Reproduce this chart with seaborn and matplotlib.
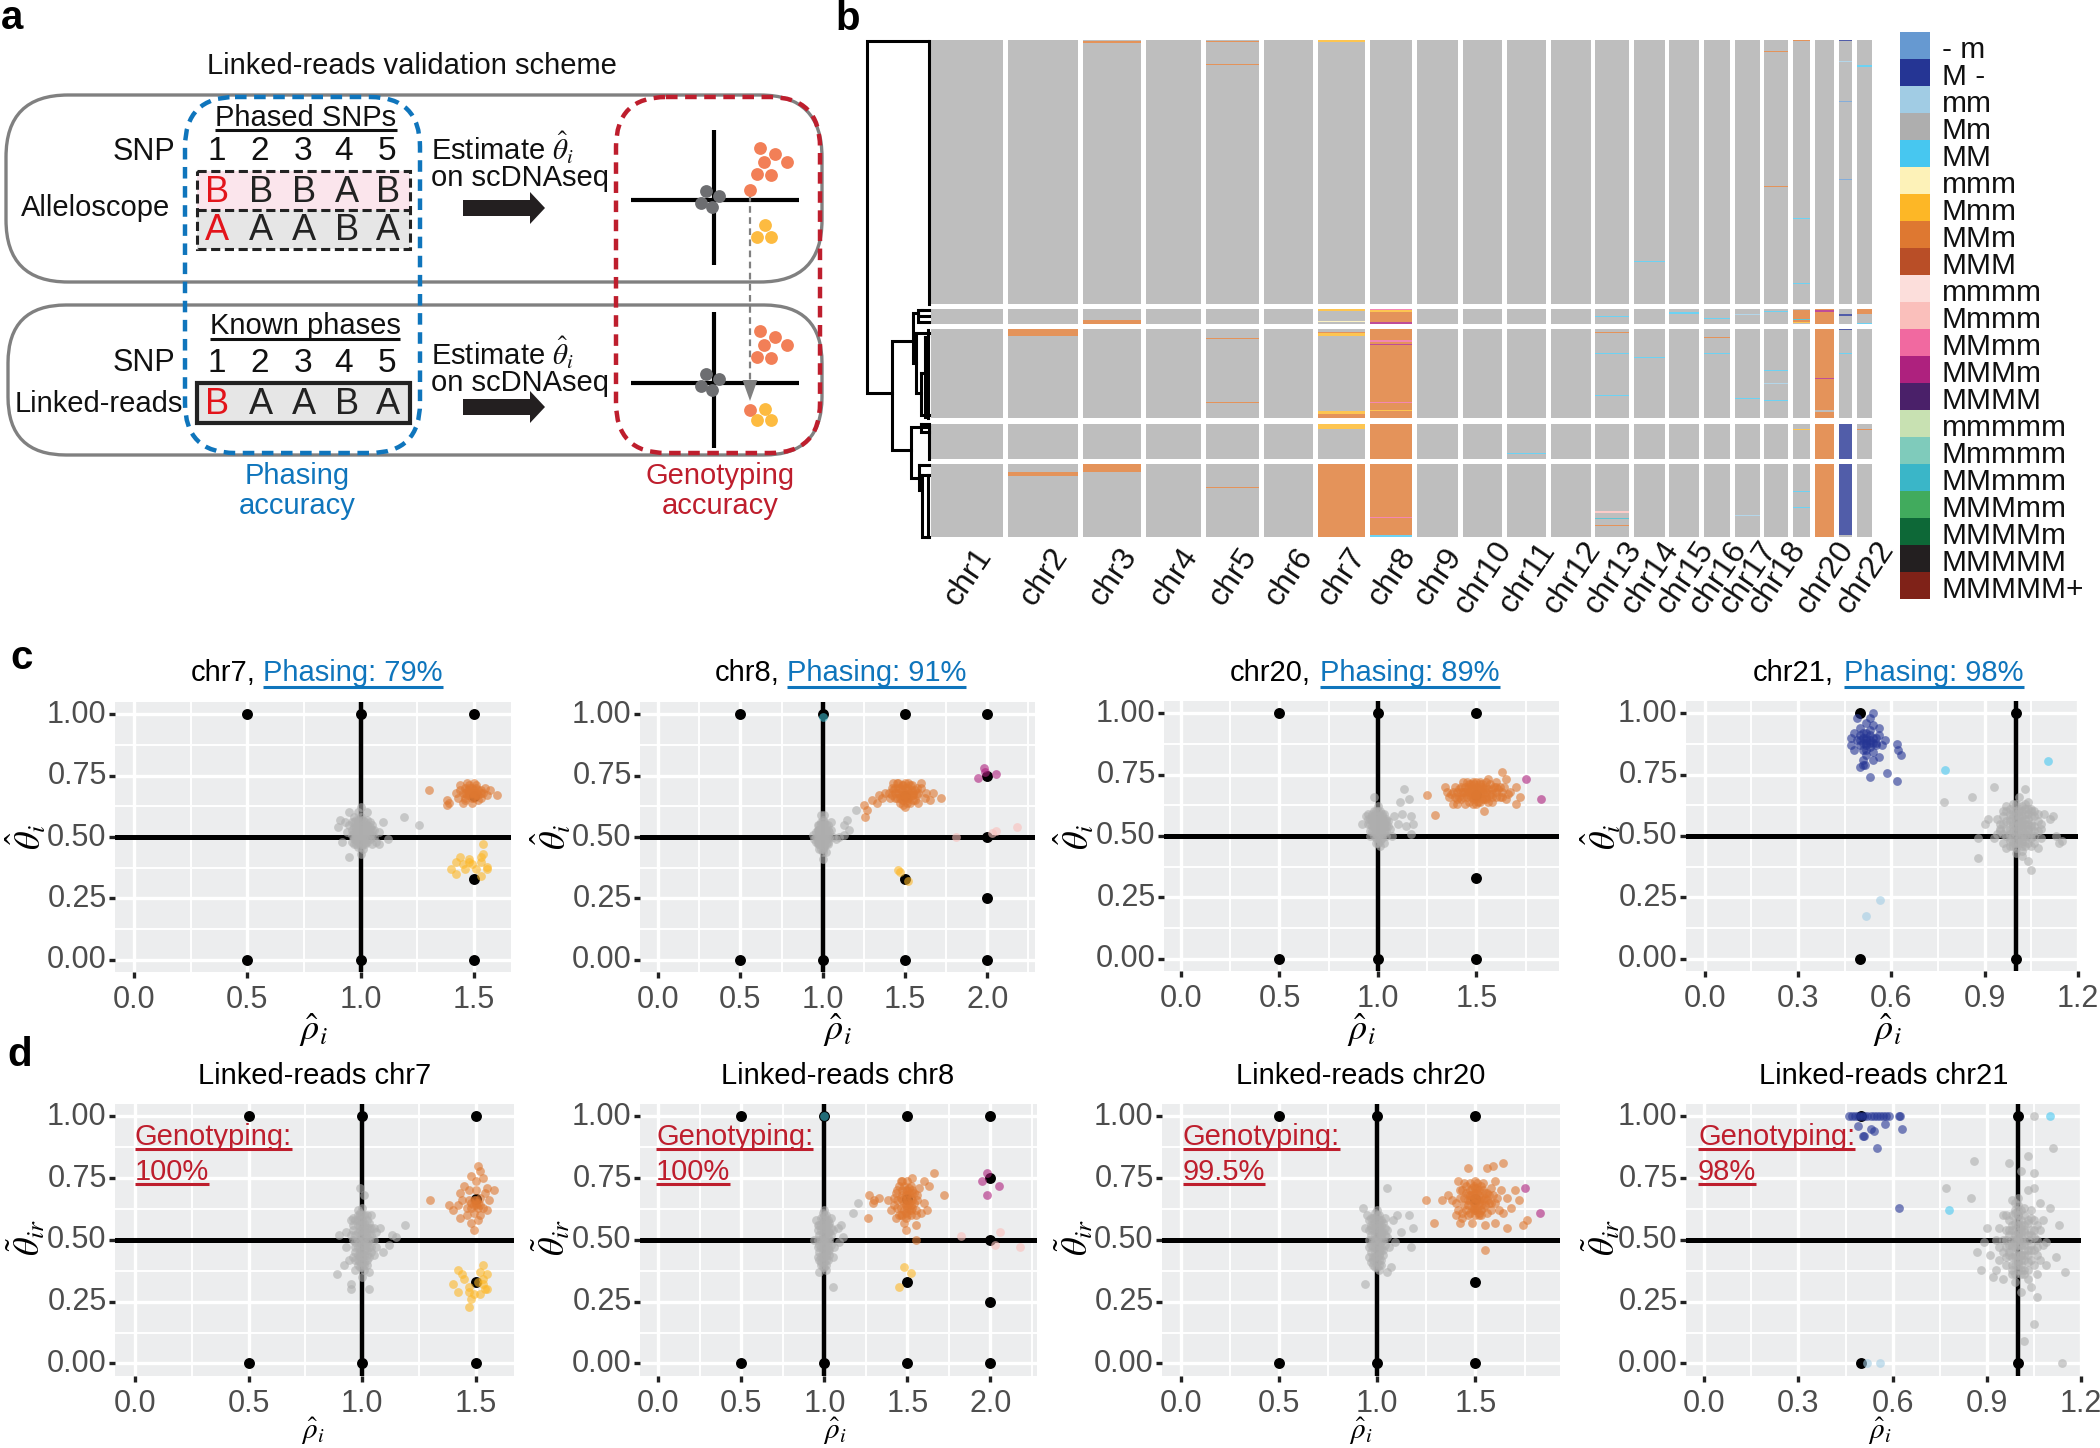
import numpy as np
import pandas as pd
import matplotlib
matplotlib.use("Agg")
import matplotlib.pyplot as plt
from matplotlib.colors import ListedColormap
from matplotlib.patches import FancyBboxPatch, Rectangle, FancyArrow
from matplotlib.ticker import AutoMinorLocator
from matplotlib.transforms import ScaledTranslation
import seaborn as sns

sns.set_theme(style="white")
plt.rcParams["font.family"] = ["Liberation Sans", "DejaVu Sans"]
plt.rcParams["mathtext.fontset"] = "stix"

# ---------- panel b data ----------
states = ["- m", "M -", "mm", "Mm", "MM", "mmm", "Mmm", "MMm", "MMM", "mmmm", "Mmmm", "MMmm", "MMMm", "MMMM",
          "mmmmm", "Mmmmm", "MMmmm", "MMMmm", "MMMMm", "MMMMM", "MMMMM+"]
state_colors = ["#6699D1", "#253594", "#A1CCE4", "#AEAEAE", "#47C7F0", "#FDF2B8", "#FDB726", "#DE7831", "#B94E27",
                "#FCDEDB", "#FABFBB", "#F169A0", "#AE217E", "#4A2069", "#C8E1B2", "#7FCBBB", "#3AB6C8", "#41AB5D",
                "#0D6837", "#231F20", "#7F2218"]
chroms = [f"chr{i}" for i in range(1, 23)]
chrom_labels = [c if c not in ("chr19", "chr21") else "" for c in chroms]
group_rows = [265, 15, 89, 35, 73]
# (chromosome, group, first row, number of rows, state)
segments = [
    (3, 0, 2, 2, "MMm"), (5, 0, 2, 1, "MMm"), (5, 0, 25, 1, "MMm"), (7, 0, 0, 1, "MMm"), (7, 0, 1, 2, "Mmm"),
    (14, 0, 222, 1, "MM"), (18, 0, 12, 1, "MMm"), (18, 0, 147, 1, "MMm"), (19, 0, 0, 2, "MMm"), (19, 0, 179, 1, "MM"),
    (19, 0, 244, 1, "MM"), (21, 0, 0, 2, "M -"), (21, 0, 22, 1, "mm"), (21, 0, 62, 1, "- m"), (21, 0, 140, 1, "- m"),
    (22, 0, 26, 2, "MM"),
    (3, 1, 11, 4, "MMm"), (7, 1, 0, 2, "Mmm"), (7, 1, 12, 1, "mmm"), (8, 1, 0, 15, "MMm"), (8, 1, 0, 1, "MMmm"),
    (8, 1, 1, 2, "Mmm"), (8, 1, 13, 2, "MMMm"), (13, 1, 7, 1, "MM"), (15, 1, 3, 2, "MM"), (16, 1, 9, 1, "MM"),
    (17, 1, 5, 1, "mm"), (18, 1, 2, 1, "MM"), (19, 1, 1, 13, "MMm"), (19, 1, 10, 1, "MMmmm"), (19, 1, 13, 1, "Mmm"),
    (20, 1, 0, 15, "MMm"), (20, 1, 1, 2, "MMMm"), (21, 1, 5, 2, "M -"), (22, 1, 0, 5, "MMm"), (22, 1, 14, 1, "MM"),
    (2, 2, 0, 7, "MMm"), (5, 2, 9, 1, "MMm"), (5, 2, 73, 1, "MMm"), (7, 2, 3, 1, "MMm"), (7, 2, 4, 3, "Mmm"),
    (7, 2, 82, 3, "Mmm"), (7, 2, 85, 4, "MMm"), (8, 2, 0, 89, "MMm"), (8, 2, 11, 2, "MMmm"), (8, 2, 15, 1, "MMMm"),
    (8, 2, 73, 1, "MMmm"), (8, 2, 81, 1, "Mmm"), (13, 2, 3, 1, "MMm"), (13, 2, 24, 1, "MM"), (13, 2, 66, 1, "MM"),
    (14, 2, 28, 1, "MM"), (16, 2, 8, 1, "MMm"), (16, 2, 24, 1, "MM"), (17, 2, 69, 1, "MM"), (18, 2, 41, 1, "MM"),
    (18, 2, 54, 1, "mm"), (18, 2, 71, 1, "MM"), (20, 2, 0, 89, "MMm"), (20, 2, 49, 1, "MMMm"), (20, 2, 81, 2, "Mm"),
    (21, 2, 0, 1, "M -"), (21, 2, 24, 1, "MM"),
    (7, 3, 0, 5, "Mmm"), (8, 3, 0, 35, "MMm"), (11, 3, 29, 1, "MM"), (19, 3, 5, 1, "Mmm"), (20, 3, 0, 35, "MMm"),
    (21, 3, 0, 35, "M -"), (22, 3, 5, 1, "MMm"),
    (2, 4, 8, 4, "MMm"), (3, 4, 0, 8, "MMm"), (5, 4, 23, 1, "MMm"), (7, 4, 0, 73, "MMm"), (8, 4, 0, 73, "MMm"),
    (8, 4, 53, 1, "MMmm"), (8, 4, 71, 2, "MM"), (13, 4, 47, 2, "Mmmm"), (13, 4, 54, 1, "MMmmm"), (13, 4, 61, 1, "MMm"),
    (17, 4, 51, 1, "mm"), (19, 4, 27, 1, "MM"), (19, 4, 43, 1, "MM"), (20, 4, 0, 73, "MMm"), (21, 4, 0, 73, "M -"),
    (21, 4, 71, 2, "Mm"),
]

# ---------- panels c / d data ----------
rho_ticks = {"chr7": [0, .5, 1, 1.5], "chr8": [0, .5, 1, 1.5, 2], "chr20": [0, .5, 1, 1.5], "chr21": [0, .3, .6, .9, 1.2]}
theta_ticks = [0, .25, .5, .75, 1]
exp_chr7 = [(.5, 1), (1, 1), (1.5, 1), (.5, 0), (1, 0), (1.5, 0), (1.5, .33), (1.5, .667)]
exp_chr8 = [(.5, 1), (1, 1), (1.5, 1), (2, 1), (.5, 0), (1, 0), (1.5, 0), (2, 0), (1.5, .33), (2, .75), (2, .5), (2, .25), (1.5, .667)]
exp_chr20 = [(.5, 1), (1, 1), (1.5, 1), (.5, 0), (1, 0), (1.5, 0), (1.5, .33), (1.5, .667)]
exp_chr21 = [(.5, 1), (1, 1), (.5, 0), (1, 0)]

c7_Mm = [(1.00,.52),(.99,.53),(1.01,.51),(1.00,.50),(.98,.51),(1.02,.53),(1.01,.54),(.99,.50),(1.03,.52),(.97,.52),(1.00,.55),(.98,.54),(1.02,.50),(1.01,.49),(.99,.48),(1.04,.51),(.96,.53),(1.00,.47),(1.03,.55),(.97,.50),(1.05,.53),(.95,.55),(1.02,.47),(.98,.47),(1.06,.50),(1.00,.58),(.96,.48),(1.04,.56),(.94,.52),(1.08,.52),(.99,.57),(1.01,.45),(1.07,.48),(.93,.56),(1.10,.56),(1.05,.47),(.91,.57),(.90,.54),(1.00,.62),(.99,.60),(.97,.58),(1.19,.58),(1.26,.55),(.92,.48),(1.00,.43),(1.03,.60),(.95,.42),(1.12,.49),(1.08,.47),(.95,.60),(1.00,.53),(1.01,.52),(.99,.51),(1.00,.49),(1.02,.51),(.98,.53),(1.01,.55),(.99,.55),(1.03,.49),(.97,.49),(1.00,.51),(1.01,.53),(.99,.52),(1.02,.52),(.98,.52),(1.00,.54),(1.01,.50),(.99,.54),(1.02,.54),(.98,.50),(1.03,.53),(.97,.54),(1.00,.48),(1.04,.53),
         (.96,.51),(.96,.56),(.97,.47),(.97,.56),(.98,.49),(.98,.57),(.99,.46),(.99,.56),(1.00,.46),(1.00,.57),(1.01,.47),(1.01,.57),(1.02,.48),(1.02,.56),(1.03,.48),(1.03,.57),(1.04,.49),(1.04,.54),(1.05,.51),(1.05,.55),(1.06,.53)]
c7_MMm = [(1.48,.68),(1.50,.69),(1.46,.70),(1.52,.67),(1.49,.66),(1.47,.67),(1.51,.70),(1.53,.69),(1.45,.68),(1.44,.71),(1.48,.71),(1.50,.72),(1.54,.68),(1.56,.67),(1.43,.66),(1.46,.65),(1.52,.65),(1.49,.64),(1.42,.68),(1.57,.69),(1.60,.67),(1.38,.65),(1.38,.63),(1.39,.64),(1.30,.69),(1.47,.72),(1.51,.71),(1.44,.69),(1.53,.66),(1.50,.68),(1.48,.69),(1.46,.66),(1.51,.68),(1.49,.70),(1.45,.64),(1.55,.70),(1.48,.67),(1.50,.67),(1.47,.69),(1.52,.69),(1.49,.68),(1.51,.67),(1.46,.68),(1.53,.68),(1.50,.66),(1.48,.70)]
c7_Mmm = [(1.54,.47),(1.54,.43),(1.44,.42),(1.48,.41),(1.42,.40),(1.53,.40),(1.49,.39),(1.40,.37),(1.46,.37),(1.42,.35),(1.51,.37),(1.56,.38),(1.53,.34),(1.56,.37),(1.48,.40),(1.53,.42),(1.45,.39)]
c8_Mm = [(1.00,.51),(.99,.52),(1.01,.50),(1.00,.49),(.98,.51),(1.02,.52),(1.01,.53),(.99,.49),(1.03,.51),(.97,.50),(1.00,.54),(.98,.53),(1.02,.49),(1.01,.47),(.99,.47),(1.04,.50),(.96,.52),(1.00,.46),(.97,.48),(1.05,.53),(.95,.49),(1.03,.47),(.98,.45),(1.06,.50),(1.00,.57),(1.01,.56),(.99,.56),(.97,.55),(1.03,.55),(.94,.51),(1.08,.49),(1.00,.44),(1.02,.44),(1.00,.41),(.99,.59),(1.01,.59),(1.20,.61),(1.15,.57),(1.13,.55),(1.16,.53),(1.13,.51),(1.05,.56),(1.10,.50),(1.00,.51),(1.01,.51),(.99,.51),(1.00,.52),(1.00,.50),(.98,.49),(1.02,.50),(1.00,.53),(1.01,.49),(.99,.53),(.98,.52),(1.02,.53),(1.03,.49),(.97,.53),(1.00,.48),(1.01,.52),(.99,.50),
         (.96,.50),(.97,.53),(.97,.47),(.98,.55),(.98,.47),(.99,.45),(.99,.55),(1.00,.45),(1.00,.55),(1.01,.46),(1.01,.55),(1.02,.47),(1.02,.55),(1.03,.48),(1.03,.53),(1.04,.52),(.96,.48),(1.00,.56)]
c8_MMm = [(1.50,.68),(1.48,.69),(1.52,.67),(1.46,.70),(1.54,.69),(1.50,.66),(1.47,.67),(1.53,.71),(1.44,.68),(1.57,.67),(1.49,.71),(1.42,.70),(1.60,.70),(1.51,.64),(1.48,.65),(1.55,.65),(1.41,.66),(1.63,.68),(1.45,.72),(1.38,.68),(1.36,.66),(1.34,.67),(1.33,.64),(1.60,.72),(1.62,.66),(1.67,.68),(1.65,.65),(1.50,.62),(1.58,.64),(1.52,.72),(1.72,.657),(1.25,.63),(1.27,.61),(1.26,.583),(1.30,.65),(1.50,.70),(1.49,.67),(1.53,.68),(1.47,.66),(1.51,.69),(1.50,.67),(1.48,.67),(1.52,.66),(1.46,.68),(1.54,.67),(1.49,.65),(1.51,.66),(1.44,.66),(1.56,.69),(1.43,.69),(1.47,.70),(1.55,.67),
          (1.40,.68),(1.42,.67),(1.43,.72),(1.44,.70),(1.45,.66),(1.46,.72),(1.47,.64),(1.48,.71),(1.49,.63),(1.50,.72),(1.51,.65),(1.52,.70),(1.53,.64),(1.54,.71),(1.55,.68),(1.56,.65),(1.57,.70),(1.58,.68)]
c8_Mmm = [(1.46,.366),(1.47,.356),(1.52,.322)]
c8_MMmm = [(1.81,.50),(2.03,.515),(2.055,.526),(2.18,.542)]
c8_MMMm = [(1.98,.779),(2.05,.758),(1.945,.741),(1.985,.765)]
c8_MMmmm = [(1.0,.99)]
c20_Mm = [(1.00,.55),(.99,.54),(1.01,.53),(.98,.56),(1.02,.55),(.97,.54),(1.03,.56),(.99,.57),(1.00,.52),(1.01,.58),(.96,.57),(.98,.52),(1.04,.54),(1.00,.50),(1.02,.51),(.95,.55),(1.05,.56),(.97,.59),(1.03,.59),(.99,.49),(1.01,.48),(.94,.58),(1.06,.53),(1.00,.47),(.96,.52),(1.08,.58),(1.04,.50),(1.07,.50),(1.03,.47),(.99,.60),(.92,.55),(1.10,.55),(1.13,.69),(1.11,.64),(1.16,.65),(1.17,.58),(1.18,.55),(.98,.66),(1.14,.54),(1.17,.51),(1.12,.59),(1.00,.62),(1.01,.55),(.99,.55),(1.00,.56),(1.00,.54),(.98,.54),(1.02,.57),(1.00,.53),(1.01,.56),(.99,.52),(1.02,.53),(.98,.58),(1.03,.54),(.97,.56),(1.00,.58),(1.01,.51),(.99,.59),(1.02,.59),(.96,.55),(1.04,.57),(.95,.57),(1.00,.55),(.98,.50),(1.03,.52),
          (.96,.50),(.97,.58),(.97,.52),(.98,.57),(.98,.60),(.98,.55),(.99,.53),(.99,.51),(1.00,.49),(1.00,.57),(1.00,.60),(1.01,.52),(1.01,.54),(1.01,.60),(1.02,.49),(1.02,.58),(1.03,.51),(1.03,.55),(1.04,.56),(1.04,.52),(1.05,.54),(.95,.59),(.99,.47),(1.01,.46)]
c20_MMm = [(1.50,.68),(1.48,.69),(1.52,.67),(1.46,.70),(1.54,.69),(1.50,.66),(1.47,.67),(1.53,.71),(1.44,.68),(1.57,.67),(1.49,.71),(1.42,.70),(1.60,.70),(1.51,.64),(1.48,.65),(1.55,.65),(1.41,.66),(1.63,.68),(1.45,.72),(1.38,.68),(1.36,.66),(1.34,.70),(1.40,.63),(1.60,.72),(1.62,.66),(1.67,.68),(1.65,.65),(1.54,.60),(1.58,.64),(1.52,.72),(1.25,.665),(1.29,.585),(1.63,.76),(1.65,.73),(1.70,.70),(1.72,.66),(1.70,.63),(1.38,.63),(1.56,.73),(1.50,.70),(1.49,.67),(1.53,.68),(1.47,.66),(1.51,.69),(1.43,.66),(1.55,.68),(1.58,.69),(1.45,.69),(1.35,.68),(1.43,.72),(1.50,.67),(1.48,.67),(1.52,.69),(1.46,.68),(1.54,.67),(1.49,.69),(1.51,.66),(1.44,.70),(1.56,.69),(1.42,.68),(1.58,.67),(1.40,.68),(1.60,.68),(1.47,.71),(1.53,.65),(1.45,.66),(1.55,.70),(1.39,.66),(1.62,.70),(1.50,.65),
           (1.37,.67),(1.39,.70),(1.40,.65),(1.41,.69),(1.42,.65),(1.43,.68),(1.44,.63),(1.45,.67),(1.46,.71),(1.46,.64),(1.47,.69),(1.48,.63),(1.48,.72),(1.49,.66),(1.50,.63),(1.50,.72),(1.51,.67),(1.52,.64),(1.52,.71),(1.53,.70),(1.54,.65),(1.55,.72),(1.55,.66),(1.56,.64),(1.57,.71),(1.58,.66),(1.59,.70),(1.60,.66),(1.61,.69),(1.63,.66),(1.64,.70),(1.66,.67)]
c20_MMMm = [(1.75,.73),(1.83,.65)]
c21_M_ = [(.52,.89),(.51,.90),(.53,.88),(.50,.91),(.54,.90),(.52,.92),(.50,.87),(.53,.86),(.55,.88),(.49,.89),(.51,.85),(.56,.91),(.48,.92),(.54,.84),(.52,.83),(.57,.87),(.47,.90),(.47,.87),(.48,.85),(.50,.94),(.54,.95),(.53,.98),(.54,1.0),(.52,.96),(.49,.98),(.58,.89),(.56,.82),(.51,.81),(.54,.81),(.51,.79),(.56,.94),(.617,.874),(.632,.83),(.62,.85),(.531,.741),(.585,.755),(.617,.724),(.499,.779),(.516,.789),(.55,.87),(.52,.87),(.53,.91),(.51,.88),(.52,.90),(.53,.89),(.54,.88),(.52,.85),(.53,.93),(.50,.89),(.55,.90),(.52,.88),(.51,.92)]
c21_MM = [(.774,.768),(1.104,.806)]
c21_mm = [(.563,.24),(.52,.175)]
c21_Mm = [(1.02,.55),(1.00,.54),(1.04,.53),(.98,.56),(1.03,.57),(.99,.52),(1.05,.58),(1.01,.50),(.97,.53),(1.06,.52),(1.02,.48),(.96,.58),(1.00,.60),(1.03,.61),(.98,.49),(1.07,.56),(.95,.55),(1.05,.49),(1.02,.46),(.94,.51),(1.09,.59),(.99,.63),(1.04,.64),(1.01,.66),(1.03,.69),(1.08,.49),(.93,.49),(1.11,.57),(.91,.57),(.90,.55),(1.13,.50),(1.14,.47),(.88,.49),(.98,.46),(1.02,.44),(1.00,.45),(.77,.64),(.86,.66),(.93,.70),(.88,.41),(1.04,.40),(1.05,.36),(1.12,.58),(1.15,.48),(.96,.47),(1.01,.55),(1.02,.53),(1.03,.55),(1.00,.57),(1.01,.52),(.99,.55),(1.03,.51),(1.02,.58),(1.04,.55),(1.00,.51),(.97,.45),(1.07,.45),(1.02,.56),(1.01,.58),(1.00,.56),(.99,.58),(.98,.53),(1.03,.53),(1.05,.54),(1.04,.59),(1.02,.60),(1.06,.60),(.97,.60),(1.00,.48),(1.01,.47),(1.03,.48),(.99,.47),(.96,.51),(.95,.53),(1.06,.47),(1.02,.51),(1.04,.50),(.98,.59),(1.01,.61),(.96,.55),(1.08,.53),(1.05,.61),(.94,.57),(1.00,.43),(1.02,.42),
          (.95,.52),(.96,.60),(.97,.50),(.97,.56),(.97,.62),(.98,.48),(.98,.51),(.98,.57),(.98,.61),(.99,.46),(.99,.50),(.99,.54),(.99,.60),(1.00,.47),(1.00,.52),(1.00,.59),(1.00,.63),(1.01,.49),(1.01,.54),(1.01,.57),(1.01,.60),(1.02,.47),(1.02,.50),(1.02,.54),(1.02,.62),(1.03,.46),(1.03,.50),(1.03,.59),(1.03,.63),(1.04,.47),(1.04,.52),(1.04,.57),(1.04,.61),(1.05,.46),(1.05,.51),(1.05,.55),(1.05,.60),(1.06,.50),(1.06,.54),(1.06,.58),(1.07,.52),(1.07,.59),(1.08,.55)]

d7_Mm = [(1.00,.50),(.99,.52),(1.01,.48),(1.00,.46),(.98,.50),(1.02,.53),(1.01,.55),(.99,.47),(1.03,.50),(.97,.52),(1.00,.56),(.98,.56),(1.02,.46),(1.01,.44),(.99,.43),(1.04,.52),(.96,.54),(1.00,.41),(1.03,.57),(.97,.45),(1.06,.53),(.95,.58),(1.02,.42),(.98,.40),(1.06,.47),(1.00,.60),(.96,.43),(1.04,.60),(.93,.47),(1.08,.55),(.99,.61),(1.01,.38),(1.09,.45),(.93,.53),(1.12,.48),(1.05,.44),(.90,.52),(.94,.42),(.98,.62),(1.01,.68),(.99,.71),(.96,.59),(1.19,.56),(.89,.36),(.95,.32),(.95,.30),(1.03,.30),(1.15,.51),(1.13,.52),(.92,.40),(1.00,.51),(1.01,.50),(.99,.49),(1.00,.53),(1.02,.49),(.98,.47),(1.01,.53),(1.00,.48),(.99,.54),(1.04,.45),(1.05,.55),(.97,.38),(1.00,.35),(1.03,.37),(1.00,.44),(.98,.44),(1.01,.41),(.99,.58),(1.00,.58),(1.02,.58),(.98,.53),(1.02,.51),(.97,.49),(1.03,.47),(.99,.45),(1.01,.46),(1.00,.54),(.99,.41),(1.02,.55),(.98,.58),
         (.96,.56),(.97,.42),(.97,.58),(.98,.42),(.98,.60),(.99,.39),(.99,.44),(.99,.56),(.99,.60),(1.00,.39),(1.00,.43),(1.00,.57),(1.00,.63),(1.01,.40),(1.01,.57),(1.01,.60),(1.02,.40),(1.02,.44),(1.02,.48),(1.02,.60),(1.03,.43),(1.03,.52),(1.03,.55),(1.04,.47),(1.04,.55),(1.05,.50),(.97,.47),(.96,.50),(.95,.52)]
d7_MMm = [(1.50,.66),(1.48,.65),(1.52,.67),(1.47,.70),(1.53,.63),(1.50,.70),(1.46,.63),(1.54,.69),(1.49,.61),(1.52,.60),(1.44,.66),(1.56,.66),(1.45,.72),(1.50,.74),(1.53,.75),(1.55,.71),(1.43,.69),(1.48,.76),(1.52,.78),(1.51,.80),(1.58,.70),(1.42,.64),(1.38,.64),(1.40,.62),(1.30,.66),(1.43,.59),(1.46,.60),(1.48,.57),(1.49,.54),(1.51,.58),(1.55,.62),(1.49,.64),(1.50,.65),(1.51,.65),(1.47,.66),(1.52,.64),(1.50,.64),(1.49,.66),(1.51,.63),(1.48,.63)]
d7_Mmm = [(1.42,.38),(1.44,.36),(1.45,.34),(1.53,.40),(1.52,.37),(1.55,.36),(1.53,.34),(1.51,.33),(1.55,.30),(1.40,.32),(1.47,.31),(1.53,.32),(1.52,.28),(1.42,.29),(1.49,.28),(1.47,.29),(1.48,.26),(1.54,.30),(1.47,.23)]
d8_Mm = [(1.00,.50),(.99,.52),(1.01,.48),(1.00,.46),(.98,.50),(1.02,.53),(1.01,.55),(.99,.47),(1.03,.50),(.97,.52),(1.00,.56),(.98,.56),(1.02,.46),(1.01,.44),(.99,.43),(1.04,.52),(.96,.54),(1.00,.41),(1.03,.57),(.97,.45),(1.05,.54),(.96,.47),(1.02,.42),(.98,.40),(1.06,.47),(1.00,.60),(.96,.43),(1.04,.59),(.94,.50),(1.08,.55),(.99,.61),(1.01,.38),(1.09,.49),(.95,.58),(1.20,.65),(1.17,.61),(1.10,.56),(1.11,.51),(1.05,.43),(.97,.37),(1.05,.31),(1.00,.51),(1.01,.50),(.99,.49),(1.00,.53),(1.02,.49),(.98,.47),(1.01,.53),(1.00,.44),(.99,.45),(1.01,.46),(.98,.43),(1.00,.58),(.99,.57),(1.01,.58),(.98,.54),(1.02,.56),(1.00,.48),(.99,.50),(1.01,.42),(.97,.48),(1.03,.46),
         (.96,.50),(.97,.42),(.97,.56),(.98,.41),(.98,.59),(.99,.39),(.99,.55),(.99,.59),(1.00,.39),(1.00,.43),(1.00,.55),(1.00,.62),(1.01,.40),(1.01,.44),(1.01,.56),(1.01,.60),(1.02,.47),(1.02,.51),(1.02,.58),(1.03,.44),(1.03,.53),(1.04,.48),(1.04,.55),(.96,.56)]
d8_MMm = [(1.50,.66),(1.48,.65),(1.52,.67),(1.47,.70),(1.53,.63),(1.50,.70),(1.46,.63),(1.54,.69),(1.49,.61),(1.52,.60),(1.44,.66),(1.56,.66),(1.45,.72),(1.50,.74),(1.53,.75),(1.57,.71),(1.43,.69),(1.47,.74),(1.52,.72),(1.60,.74),(1.58,.61),(1.42,.64),(1.38,.66),(1.40,.62),(1.33,.67),(1.43,.59),(1.46,.60),(1.48,.57),(1.49,.54),(1.55,.56),(1.55,.62),(1.60,.65),(1.62,.62),(1.63,.72),(1.66,.77),(1.72,.68),(1.30,.66),(1.27,.68),(1.29,.65),(1.26,.59),(1.55,.50),(1.49,.64),(1.50,.65),(1.51,.65),(1.47,.66),(1.52,.64),(1.49,.68),(1.51,.69),(1.48,.62),(1.53,.66),(1.50,.63),(1.49,.70),(1.51,.62),(1.47,.68),(1.53,.69),(1.50,.68),
          (1.42,.67),(1.44,.63),(1.44,.70),(1.45,.60),(1.46,.67),(1.46,.74),(1.47,.60),(1.48,.72),(1.49,.59),(1.50,.60),(1.51,.71),(1.52,.62),(1.53,.70),(1.54,.65),(1.55,.60),(1.56,.68)]
d8_Mmm = [(1.48,.39),(1.52,.365),(1.45,.31)]
d8_MMmm = [(1.82,.515),(2.06,.53),(2.03,.48),(2.18,.47)]
d8_MMMm = [(1.98,.77),(1.95,.74),(2.05,.72),(1.98,.68)]
d8_MMmmm = [(1.0,1.0)]
d20_Mm = [(1.00,.50),(.99,.52),(1.01,.48),(1.00,.46),(.98,.50),(1.02,.53),(1.01,.55),(.99,.47),(1.03,.50),(.97,.52),(1.00,.56),(.98,.56),(1.02,.46),(1.01,.44),(.99,.43),(1.04,.52),(.96,.54),(1.00,.41),(1.03,.57),(.97,.45),(1.05,.54),(.96,.47),(1.02,.42),(.98,.40),(1.06,.47),(1.00,.60),(.96,.43),(1.04,.59),(.94,.55),(1.08,.58),(.99,.61),(1.01,.38),(1.09,.49),(.95,.60),(1.05,.71),(.93,.63),(1.10,.60),(1.16,.60),(1.18,.55),(1.17,.47),(1.05,.37),(1.07,.39),(.94,.32),(1.00,.51),(1.01,.50),(.99,.49),(1.00,.53),(1.02,.49),(.98,.47),(1.01,.53),(1.12,.53),(1.00,.44),(.99,.45),(1.01,.46),(.98,.43),(1.00,.58),(.99,.57),(1.01,.58),(.98,.54),(1.02,.56),(1.00,.48),(.99,.50),(1.01,.42),(.97,.48),(1.03,.46),(1.02,.52),(.97,.55),
          (.96,.50),(.97,.41),(.97,.56),(.97,.59),(.98,.42),(.98,.59),(.99,.39),(.99,.55),(.99,.59),(1.00,.39),(1.00,.43),(1.00,.55),(1.00,.62),(1.01,.40),(1.01,.44),(1.01,.56),(1.01,.60),(1.02,.40),(1.02,.47),(1.02,.58),(1.03,.44),(1.03,.53),(1.04,.48),(1.04,.55),(1.05,.51),(.96,.58)]
d20_MMm = [(1.50,.67),(1.48,.66),(1.52,.68),(1.47,.70),(1.53,.64),(1.50,.71),(1.46,.64),(1.54,.70),(1.49,.62),(1.52,.61),(1.44,.67),(1.56,.66),(1.45,.72),(1.50,.74),(1.53,.72),(1.58,.71),(1.43,.70),(1.41,.62),(1.52,.60),(1.60,.74),(1.58,.62),(1.38,.66),(1.36,.68),(1.40,.60),(1.33,.66),(1.43,.59),(1.46,.60),(1.60,.57),(1.48,.57),(1.55,.56),(1.55,.64),(1.60,.65),(1.62,.62),(1.63,.70),(1.66,.67),(1.72,.66),(1.70,.70),(1.64,.61),(1.68,.63),(1.76,.58),(1.74,.56),(1.66,.55),(1.59,.80),(1.56,.79),(1.64,.81),(1.46,.79),(1.41,.74),(1.25,.66),(1.29,.57),(1.42,.57),(1.55,.46),(1.49,.65),(1.50,.65),(1.51,.66),(1.47,.66),(1.52,.65),(1.49,.68),(1.51,.69),(1.48,.63),(1.53,.67),(1.50,.69),(1.49,.63),(1.51,.71),(1.47,.68),(1.54,.66),(1.46,.66),(1.45,.69),(1.55,.67),(1.44,.64),(1.52,.70),(1.48,.71),(1.56,.69),(1.42,.67),(1.57,.65),(1.50,.62),(1.53,.62),
           (1.40,.65),(1.42,.70),(1.43,.61),(1.44,.73),(1.45,.62),(1.46,.68),(1.47,.61),(1.47,.73),(1.48,.68),(1.49,.72),(1.50,.60),(1.51,.63),(1.51,.73),(1.52,.66),(1.53,.60),(1.54,.63),(1.54,.73),(1.55,.69),(1.56,.61),(1.57,.68),(1.58,.65),(1.59,.68),(1.61,.67)]
d20_MMMm = [(1.75,.71),(1.83,.61)]
d21_M_ = [(.46,1),(.47,1),(.48,1),(.49,1),(.50,1),(.51,1),(.52,1),(.53,1),(.54,1),(.55,1),(.56,1),(.57,1),(.58,1),(.59,1),(.62,1),(.625,1),(.49,.96),(.51,.92),(.53,.95),(.54,.94),(.575,.97),(.63,.95),(.55,.87),(.62,.63),(.505,.92)]
d21_MM = [(1.1,1.0),(.78,.62)]
d21_mm = [(.52,0),(.56,0)]
d21_Mm = [(1.00,.50),(.99,.52),(1.01,.48),(1.00,.46),(.98,.50),(1.02,.53),(1.01,.55),(.99,.47),(1.03,.50),(.97,.52),(1.00,.56),(.98,.56),(1.02,.46),(1.01,.44),(.99,.43),(1.04,.52),(.96,.54),(1.00,.41),(1.03,.57),(.97,.45),(1.05,.54),(.96,.47),(1.02,.42),(.98,.40),(1.06,.47),(1.00,.60),(.96,.43),(1.04,.59),(.94,.55),(1.08,.58),(.99,.61),(1.01,.38),(1.09,.49),(.95,.60),(.93,.50),(.91,.44),(.93,.38),(.92,.35),(.95,.34),(.99,.33),(1.03,.34),(1.06,.36),(1.09,.40),(1.12,.43),(1.15,.37),(.88,.38),(.87,.45),(.90,.55),(.89,.49),(1.02,.63),(1.00,.67),(1.03,.70),(1.05,.71),(.98,.66),(1.00,.62),(1.07,.65),(1.10,.63),(1.13,.56),(1.01,.78),(1.03,.84),(1.05,.77),(.97,.81),(.86,.82),(.77,.71),(.85,.67),(1.11,.87),(1.05,1.0),(1.14,0.0),(1.05,.16),(1.02,.09),(1.01,.29),(1.06,.27),(1.04,.31),(1.00,.51),(1.01,.50),(.99,.49),(1.00,.53),(1.02,.49),(.98,.47),(1.01,.53),(1.00,.44),(.99,.40),(1.01,.42),(.98,.43),(1.00,.58),(.99,.57),(1.01,.58),(.98,.54),(1.02,.56),(1.00,.48),(.99,.50),(1.01,.36),(.97,.48),(1.03,.46),(1.02,.60),(.97,.58),(1.00,.40),(1.02,.38),(.98,.36),(1.04,.48),(.96,.50),(1.05,.51),(.95,.45),(1.06,.56),(.94,.47),(1.03,.41),(1.00,.64),(.99,.65),
          (.96,.40),(.97,.44),(.97,.54),(.98,.38),(.98,.48),(.98,.60),(.99,.36),(.99,.44),(.99,.54),(.99,.62),(1.00,.38),(1.00,.42),(1.00,.52),(1.00,.60),(1.01,.40),(1.01,.44),(1.01,.51),(1.01,.56),(1.01,.62),(1.02,.36),(1.02,.44),(1.02,.48),(1.02,.54),(1.03,.38),(1.03,.44),(1.03,.52),(1.03,.58),(1.04,.42),(1.04,.46),(1.04,.54),(1.04,.62),(1.05,.40),(1.05,.46),(1.05,.58),(1.06,.44),(1.06,.50),(1.07,.42),(1.07,.54),(.95,.50),(.94,.42),(.96,.60),(1.08,.48)]

c_series = {
    "chr7": [(c7_Mm, "Mm"), (c7_Mmm, "Mmm"), (c7_MMm, "MMm")],
    "chr8": [(c8_Mm, "Mm"), (c8_Mmm, "Mmm"), (c8_MMm, "MMm"), (c8_MMmm, "Mmmm"), (c8_MMMm, "MMMm"), (c8_MMmmm, "MMmmm")],
    "chr20": [(c20_Mm, "Mm"), (c20_MMm, "MMm"), (c20_MMMm, "MMMm")],
    "chr21": [(c21_Mm, "Mm"), (c21_M_, "M -"), (c21_MM, "MM"), (c21_mm, "mm")],
}
d_series = {
    "chr7": [(d7_Mm, "Mm"), (d7_Mmm, "Mmm"), (d7_MMm, "MMm")],
    "chr8": [(d8_Mm, "Mm"), (d8_Mmm, "Mmm"), (d8_MMm, "MMm"), (d8_MMmm, "Mmmm"), (d8_MMMm, "MMMm"), (d8_MMmmm, "MMmmm")],
    "chr20": [(d20_Mm, "Mm"), (d20_MMm, "MMm"), (d20_MMMm, "MMMm")],
    "chr21": [(d21_Mm, "Mm"), (d21_M_, "M -"), (d21_MM, "MM"), (d21_mm, "mm")],
}
expected = {"chr7": exp_chr7, "chr8": exp_chr8, "chr20": exp_chr20, "chr21": exp_chr21}
phasing = {"chr7": "79%", "chr8": "91%", "chr20": "89%", "chr21": "98%"}
genotyping = {"chr7": "100%", "chr8": "100%", "chr20": "99.5%", "chr21": "98%"}

# ---------- layout (pixels) ----------
W, H = 2100, 1448
fig = plt.figure(figsize=(W / 100, H / 100), dpi=100, facecolor="white")
def axpx(x0, y0, x1, y1, **kw):
    return fig.add_axes([x0 / W, 1 - y1 / H, (x1 - x0) / W, (y1 - y0) / H], **kw)

ov = fig.add_axes([0, 0, 1, 1], zorder=20)
ov.set_xlim(0, W); ov.set_ylim(H, 0); ov.axis("off"); ov.patch.set_alpha(0)
BLUE = "#0F75BC"; RED = "#BE1E2D"; INK = "#111111"
def T(x, y, s, size=22, color=INK, ha="center", va="center", **kw):
    return ov.text(x, y + 2, s, fontsize=size, color=color, ha=ha, va=va, **kw)
renderer = fig.canvas.get_renderer()
def under(t, y, color, lw=2.2):
    bb = t.get_window_extent(renderer)
    ov.plot([bb.x0, bb.x1], [y, y], color=color, lw=lw, solid_capstyle="butt")

for s, x, y in [("a", 12, 29), ("b", 848, 30), ("c", 22, 669), ("d", 20, 1066)]:
    ov.text(x, y, s, fontsize=29, color="black", fontweight="bold", ha="center", va="baseline")

# ---------- panel a (schematic) ----------
T(412, 64, "Linked-reads validation scheme", size=21)
def rbox(x0, y0, x1, y1, r, color, lw, ls="-", fc="none", z=2):
    ov.add_patch(FancyBboxPatch((x0 + r, y0 + r), x1 - x0 - 2 * r, y1 - y0 - 2 * r, boxstyle=f"round,pad={r},rounding_size={r}",
                                fc=fc, ec=color, lw=lw, ls=ls, zorder=z))
rbox(6, 95, 822, 282, 62, "#808080", 2.4)
rbox(8, 305, 822, 455, 58, "#808080", 2.4)
ov.add_patch(Rectangle((197, 171), 213, 39, fc="#FBE5EC", ec="none", zorder=1))
ov.add_patch(Rectangle((197, 210), 213, 39, fc="#E6E6E6", ec="none", zorder=1))
ov.add_patch(Rectangle((197, 171), 213, 78, fc="none", ec="#222222", lw=2.2, ls=(0, (3, 1.5)), zorder=2))
ov.plot([197, 410], [210, 210], color="#222222", lw=2.2, ls=(0, (3, 1.5)), zorder=2)
ov.add_patch(Rectangle((197, 383), 213, 40, fc="#E6E6E6", ec="#222222", lw=3, zorder=2))
rbox(185, 97, 420, 453, 50, BLUE, 3.2, (0, (2.6, 1.7)), z=4)
rbox(616, 97, 820, 453, 50, RED, 3.2, (0, (2.6, 1.7)), z=4)
t = T(306, 116, "Phased SNPs", size=21); under(t, 130, INK)
t = T(305, 324, "Known phases", size=21); under(t, 339, INK)
T(175, 150, "SNP", ha="right"); T(175, 361, "SNP", ha="right")
T(170, 206, "Alleloscope", ha="right", size=21); T(183, 402, "Linked-reads", ha="right", size=21)
for x, d in zip([217, 260, 303, 344, 387], "12345"):
    T(x, 150, d, size=24); T(x, 361, d, size=24)
letter_x = [217, 261, 304, 347, 388]
for y, word in [(190, "BBBAB"), (229, "AAABA"), (402, "BAABA")]:
    for i, (x, c) in enumerate(zip(letter_x, word)):
        T(x, y, c, size=26, color="#E3141B" if i == 0 else "#222222")
for y0, y1 in [(146, 176), (351, 381)]:
    T(431, y0, r"Estimate $\hat{\theta}_i$", ha="left", size=21)
    T(431, y1, "on scDNAseq", ha="left", size=21)
for y in (208, 407):
    ov.add_patch(FancyArrow(463, y, 82, 0, width=16, head_width=32, head_length=15, length_includes_head=True,
                            fc="#231F20", ec="none", zorder=3))
for vy0, vy1, hy in [(130, 265, 200), (312, 448, 383)]:
    ov.plot([713.5, 713.5], [vy0, vy1], color="black", lw=3, zorder=3, solid_capstyle="butt")
    ov.plot([631, 799], [hy, hy], color="black", lw=3, zorder=3, solid_capstyle="butt")
ov.plot([750, 750], [195, 392], color="#808080", lw=1.6, ls=(0, (3, 2)), zorder=3)
ov.add_patch(FancyArrow(750, 380, 0, 21, width=0.1, head_width=15, head_length=21, length_includes_head=True,
                        fc="#808080", ec="none", zorder=3))
gray_dots = [(706, 191), (719, 196), (701, 203), (712, 207)]
orange_dots = [(760, 148), (775, 154), (787, 162), (764, 162), (757, 174), (771, 175)]
for dy in (0, 183):
    ov.scatter([x for x, y in gray_dots], [y + dy for x, y in gray_dots], s=85, color="#6D6E71", lw=0, zorder=5)
    ov.scatter([x for x, y in orange_dots], [y + dy for x, y in orange_dots], s=85, color="#F27F57", lw=0, zorder=5)
ov.scatter([750], [190], s=85, color="#F27F57", lw=0, zorder=5)
ov.scatter([750], [410], s=85, color="#F27F57", lw=0, zorder=5)
ov.scatter([765, 757, 771], [225, 237, 237], s=85, color="#FDBB40", lw=0, zorder=5)
ov.scatter([765, 757, 771], [409, 420, 420], s=85, color="#FDBB40", lw=0, zorder=5)
T(297, 474, "Phasing", color=BLUE, size=21); T(297, 504, "accuracy", color=BLUE, size=21)
T(720, 474, "Genotyping", color=RED, size=21); T(720, 504, "accuracy", color=RED, size=21)

# ---------- panel b ----------
col_px = [(931,1003),(1008,1078),(1083,1141),(1146,1201),(1206,1259),(1264,1313),(1318,1365),(1370,1412),(1417,1458),
          (1463,1502),(1507,1546),(1551,1591),(1595,1629),(1634,1665),(1669,1699),(1704,1730),(1735,1760),(1764,1788),
          (1793,1810),(1815,1834),(1839,1852),(1857,1872)]
row_px = [(39.5,304),(309,324),(329,418),(424,459),(464,537)]
cmap = ListedColormap(state_colors)
base = states.index("Mm")
for ci, (name, (x0, x1)) in enumerate(zip(chroms, col_px)):
    for gi, ((y0, y1), nrow) in enumerate(zip(row_px, group_rows)):
        mat = np.full((nrow, 1), base)
        for c, g, r, n, st in segments:
            if c == ci + 1 and g == gi:
                mat[r:r + n, 0] = states.index(st)
        ax = axpx(x0, y0, x1, y1)
        sns.heatmap(mat, ax=ax, cmap=cmap, vmin=-.5, vmax=20.5, cbar=False, xticklabels=False, yticklabels=False, alpha=.8)
    if chrom_labels[ci]:
        T((x0 + x1) / 2 + 1, 575, chrom_labels[ci], rotation=56, size=23)

lax = axpx(1900, 31.6, 1930, 599)
sns.heatmap(np.arange(21).reshape(-1, 1), ax=lax, cmap=cmap, vmin=-.5, vmax=20.5, cbar=False, xticklabels=False, yticklabels=states)
lax.yaxis.tick_right()
lax.tick_params(axis="y", length=0, pad=8.5, labelrotation=0, labelsize=21.5, labelcolor=INK)
for lab in lax.get_yticklabels():
    lab.set_transform(lab.get_transform() + ScaledTranslation(0, -.015, fig.dpi_scale_trans))

dendro = [
    [(928,41),(866.5,41),(866.5,393),(892,393)], [(929,41),(929,304)],
    [(913,341),(892,341),(892,450),(911,450)],
    [(918,313),(913,313),(913,363),(916,363)], [(922,310),(918,310),(918,322),(929,322)], [(922,310),(929,310)], [(921,316),(929,316)],
    [(916,333),(916,393),(921,393)], [(916,333),(929,333)], [(921,373),(921,415),(929,415)], [(921,373),(925,373)], [(925,337),(925,417)], [(925,337),(928,337)], [(928,330),(928,418)],
    [(929,427),(911,427),(911,478),(919,478)], [(921,424),(929,424)], [(921,424),(921,432),(929,432)], [(929,427),(929,459)],
    [(919,465),(919,490)], [(919,465),(929,465)], [(919,475),(929,475)], [(922,475),(922,537),(929,537)], [(928,475),(928,537)],
]
for seg in dendro:
    xs, ys = zip(*seg)
    ov.plot(xs, ys, color="black", lw=2.2, solid_capstyle="projecting", solid_joinstyle="miter")

# ---------- panels c, d ----------
def scatter_panel(box, chrom, xlim, ylim, series):
    ax = axpx(*box)
    ax.set_facecolor("#ECEDEE")
    for sp in ax.spines.values():
        sp.set_visible(False)
    ax.axvline(1, color="black", lw=3.2, zorder=2)
    ax.axhline(.5, color="black", lw=3.6, zorder=2)
    ex = pd.DataFrame(expected[chrom], columns=["rho", "theta"])
    sns.scatterplot(data=ex, x="rho", y="theta", color="black", s=62, linewidth=0, ax=ax, zorder=3, clip_on=False)
    for pts, st in series:
        df = pd.DataFrame(pts, columns=["rho", "theta"])
        sns.scatterplot(data=df, x="rho", y="theta", color=state_colors[states.index(st)], s=40, alpha=.6, linewidth=0, ax=ax, zorder=4)
    ax.set_xlim(*xlim); ax.set_ylim(*ylim)
    ax.set_xticks(rho_ticks[chrom]); ax.set_yticks(theta_ticks)
    ax.set_xticklabels([f"{v:.1f}" for v in rho_ticks[chrom]]); ax.set_yticklabels([f"{v:.2f}" for v in theta_ticks])
    ax.xaxis.set_minor_locator(AutoMinorLocator(2)); ax.yaxis.set_minor_locator(AutoMinorLocator(2))
    ax.grid(True, which="major", color="white", lw=2.4); ax.grid(True, which="minor", color="white", lw=1.4)
    ax.set_axisbelow(True)
    ax.tick_params(axis="both", which="major", length=4.5, width=2.4, color="#222222", labelcolor="#4D4D4D", labelsize=22, bottom=True, left=True)
    ax.tick_params(axis="x", which="major", pad=5); ax.tick_params(axis="y", which="major", pad=1.5)
    ax.tick_params(which="minor", length=0)
    for lab in ax.get_yticklabels():
        lab.set_transform(lab.get_transform() + ScaledTranslation(0, .03, fig.dpi_scale_trans))
    ax.set_xlabel(""); ax.set_ylabel("")
    return ax

chr_order = ["chr7", "chr8", "chr20", "chr21"]
c_boxes = [(115,702,511,972),(640,702,1035,972),(1164,701,1559,971),(1686,701,2078,971)]
c_xlim = [(-.084,1.664),(-.11,2.29),(-.086,1.919),(-.06,1.198)]
c_title = [(191,263),(715,787),(1229.5,1320),(1753,1844)]
c_ylab = [27,552,1075,1602]
c_xlab = [313,837,1361,1887]
d_boxes = [(115,1104,514,1376),(640,1104,1037,1376),(1162,1104,1560,1376),(1686,1104,2081,1376)]
d_xlim = [(-.088,1.668),(-.11,2.28),(-.095,1.93),(-.058,1.196)]
d_title = [315,838,1361,1884]
d_ylab = [27,552,1075,1602]
d_xlab = [313,835,1361,1880]
d_geno = [135,656,1183,1698]

for i, chrom in enumerate(chr_order):
    scatter_panel(c_boxes[i], chrom, c_xlim[i], (-.049, 1.049), c_series[chrom])
    T(c_title[i][0], 671, f"{chrom},", ha="left", color="black", size=21)
    t = T(c_title[i][1], 671, f"Phasing: {phasing[chrom]}", ha="left", color=BLUE, size=21)
    under(t, 687, BLUE)
    T(c_ylab[i], 835, r"$\hat{\theta}_i$", size=26, rotation=90, color="black")
    T(c_xlab[i], 1028, r"$\hat{\rho}_i$", size=26, color="black")

    scatter_panel(d_boxes[i], chrom, d_xlim[i], (-.051, 1.05), d_series[chrom])
    T(d_title[i], 1074, f"Linked-reads {chrom}", color="black", size=21)
    t = T(d_geno[i], 1135, "Genotyping:", ha="left", color=RED, size=21); under(t, 1149, RED)
    t = T(d_geno[i], 1170, genotyping[chrom], ha="left", color=RED, size=21); under(t, 1184, RED)
    T(d_ylab[i], 1235, r"$\tilde{\theta}_{ir}$", size=26, rotation=90, color="black")
    T(d_xlab[i], 1429, r"$\hat{\rho}_i$", size=21, color="black")

fig.savefig("out.png", dpi=100)
